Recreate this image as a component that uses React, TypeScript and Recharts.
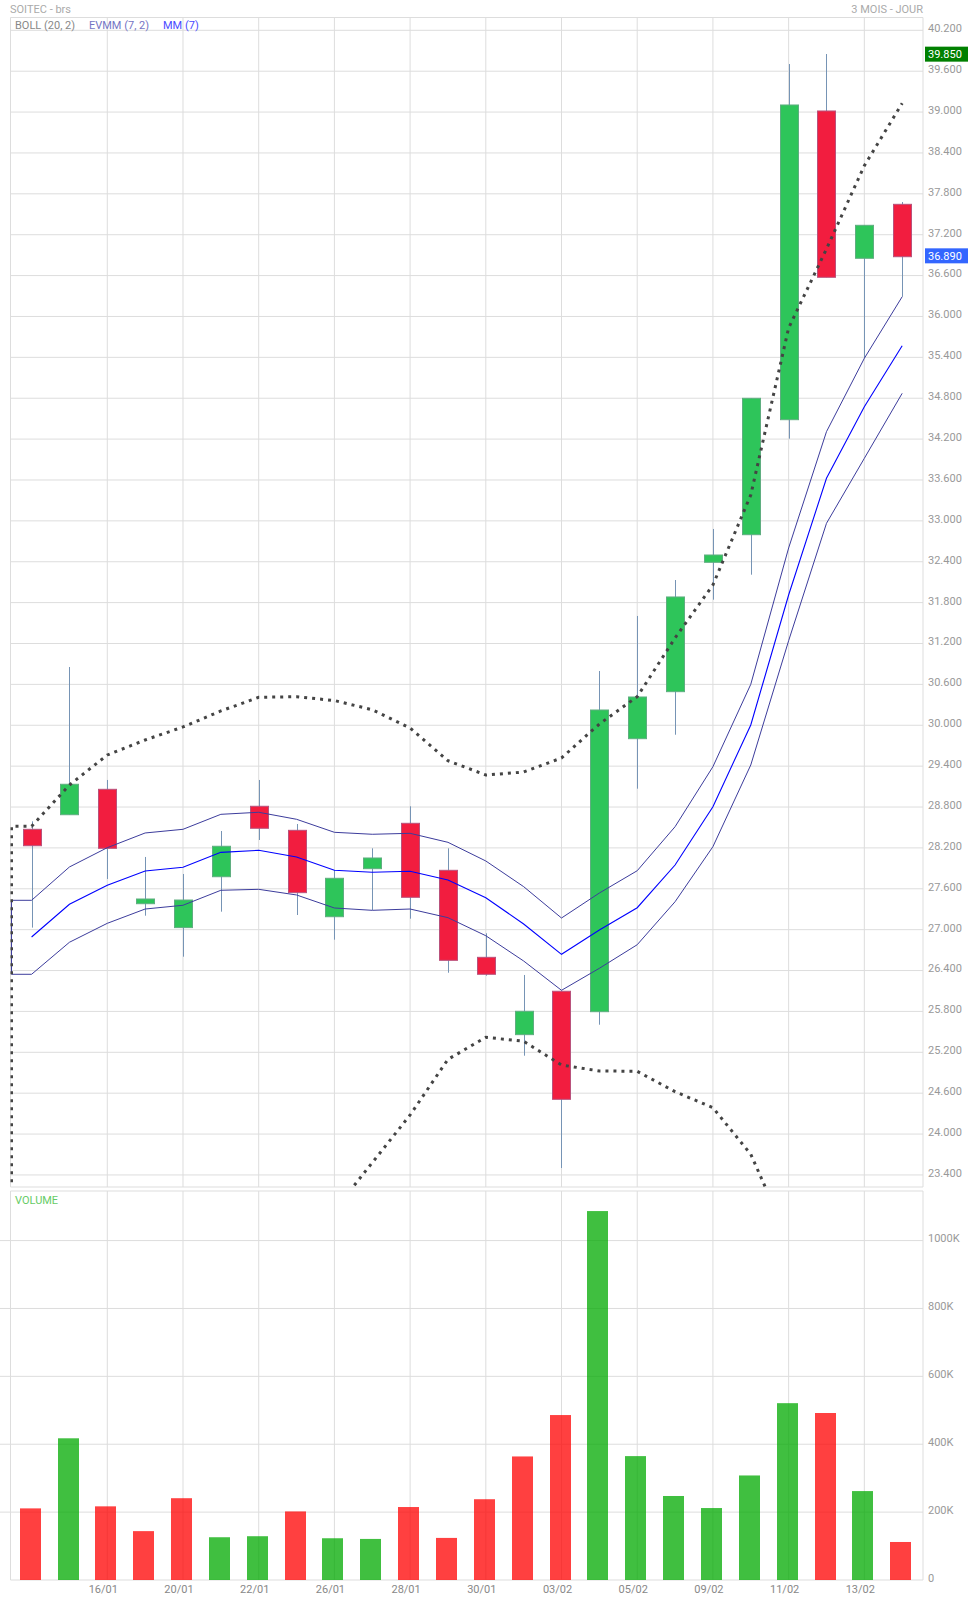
import { Bar, CartesianGrid, Cell, ComposedChart, Line, ReferenceArea, ReferenceLine, XAxis, YAxis } from "recharts";

const FONT = "Roboto, sans-serif";
const GRID = "#dddddd";

const DATES = ["", "", "16/01", "", "20/01", "", "22/01", "", "26/01", "", "28/01", "", "30/01", "", "03/02", "", "05/02", "", "09/02", "", "11/02", "", "13/02", ""];

const OPEN = [28.473, 28.687, 29.06, 27.381, 27.03, 27.777, 28.811, 28.458, 27.19, 27.895, 28.561, 27.871, 26.594, 25.459, 26.096, 25.796, 29.803, 30.493, 32.392, 32.797, 34.485, 39.016, 36.854, 37.646];
const CLOSE = [28.232, 29.134, 28.194, 27.45, 27.435, 28.224, 28.488, 27.543, 27.754, 28.052, 27.475, 26.55, 26.345, 25.802, 24.51, 30.224, 30.415, 31.883, 32.499, 34.799, 39.104, 36.575, 37.338, 36.877];
const HIGH = [28.59, 30.855, 29.197, 28.067, 27.817, 28.448, 29.197, 28.551, 27.876, 28.194, 28.811, 28.194, 26.947, 26.335, 26.096, 30.796, 31.604, 32.132, 32.881, 34.799, 39.705, 39.852, 37.338, 37.68];
const LOW = [27.03, 28.687, 27.744, 27.205, 26.603, 27.264, 28.316, 27.215, 26.853, 27.289, 27.161, 26.368, 26.324, 25.15, 23.502, 25.605, 29.069, 29.861, 31.843, 32.21, 34.206, 36.575, 35.386, 36.29];

const EVMM_UP = [27.431, 27.92, 28.203, 28.419, 28.473, 28.693, 28.723, 28.62, 28.429, 28.4, 28.414, 28.282, 28.008, 27.631, 27.171, 27.538, 27.865, 28.511, 29.392, 30.601, 32.602, 34.309, 35.386, 36.29];
const MM = [26.892, 27.372, 27.651, 27.861, 27.915, 28.135, 28.165, 28.067, 27.871, 27.842, 27.857, 27.729, 27.469, 27.083, 26.638, 26.995, 27.322, 27.949, 28.805, 30.004, 31.912, 33.625, 34.676, 35.571];
const EVMM_LOW = [26.345, 26.815, 27.093, 27.303, 27.358, 27.578, 27.592, 27.509, 27.318, 27.284, 27.303, 27.176, 26.911, 26.54, 26.11, 26.433, 26.779, 27.41, 28.218, 29.417, 31.241, 32.964, 33.918, 34.872];
const BOLL_UP = [28.517, 29.123, 29.564, 29.784, 29.975, 30.21, 30.41, 30.419, 30.363, 30.228, 29.96, 29.48, 29.27, 29.314, 29.52, 30.019, 30.419, 31.281, 32.059, 33.38, 35.831, 36.99, 38.213, 39.129];
const BOLL_LOW = [null, null, null, null, null, null, null, null, 22.88, 23.58, 24.28, 25.097, 25.42, 25.362, 25.014, 24.926, 24.921, 24.622, 24.387, 23.703, 22.45, null, null, null];

const VOLUME = [211000, 417500, 217000, 144000, 241000, 126000, 129000, 202000, 123000, 121000, 215000, 124000, 238000, 364000, 486000, 1087000, 365000, 247500, 212000, 308000, 521000, 492000, 262000, 112000];
const VOLUME_UP = [false, true, false, false, false, true, true, false, true, true, false, false, false, false, false, true, true, true, true, true, true, false, true, false];

const PRICE_TICKS = [23.4, 24, 24.6, 25.2, 25.8, 26.4, 27, 27.6, 28.2, 28.8, 29.4, 30, 30.6, 31.2, 31.8, 32.4, 33, 33.6, 34.2, 34.8, 35.4, 36, 36.6, 37.2, 37.8, 38.4, 39, 39.6, 40.2];
const VOLUME_TICKS = [0, 200000, 400000, 600000, 800000, 1000000];
const DATE_TICKS = [2, 4, 6, 8, 10, 12, 14, 16, 18, 20, 22];

const X_EDGE = -0.53;
const X_LEFT = -0.557;
const X_PAD = -0.835;
const X_RIGHT = 23.55;
const PRICE_MIN = 23.223;
const PRICE_MAX = 40.388;
const VOLUME_MAX = 1146100;

const candleRows = DATES.map((date, i) => ({
    x: i,
    date,
    open: OPEN[i],
    close: CLOSE[i],
    high: HIGH[i],
    low: LOW[i],
    range: [LOW[i], HIGH[i]],
    evmmUp: EVMM_UP[i],
    mm: MM[i],
    evmmLow: EVMM_LOW[i],
    bollUp: BOLL_UP[i],
    bollLow: BOLL_LOW[i],
}));

// the bands come up from the left border before the first session
const priceRows = [
    { x: X_EDGE, bollUp: 22, evmmUp: EVMM_LOW[0] },
    { x: X_EDGE, bollUp: BOLL_UP[0], evmmUp: EVMM_UP[0], evmmLow: EVMM_LOW[0] },
    ...candleRows,
];

const volumeRows = VOLUME.map((volume, i) => ({ x: i, volume, up: VOLUME_UP[i] }));

function Candle(props: any) {
    const { x, y, width, height, payload } = props;
    if (!payload || payload.open == null) return null;
    const cx = Math.floor(x + width / 2) + 0.5;
    const perUnit = height / Math.max(payload.high - payload.low, 0.001);
    const top = y + (payload.high - Math.max(payload.open, payload.close)) * perUnit;
    const bottom = y + (payload.high - Math.min(payload.open, payload.close)) * perUnit;
    const rising = payload.close >= payload.open;
    return (
        <g>
            <line x1={cx} x2={cx} y1={y} y2={y + height} stroke="#7694b5" strokeWidth={1} />
            <rect
                x={cx - 9}
                y={top}
                width={18}
                height={Math.max(bottom - top, 1)}
                fill={rising ? "#2ec55a" : "#f21d3f"}
                stroke={rising ? "#5fae80" : "#b9527c"}
                strokeWidth={1}
            />
        </g>
    );
}

function VolumeBar(props: any) {
    const { x, y, width, height, fill } = props;
    return <rect x={Math.round(x) - 1} y={y} width={width} height={height} fill={fill} fillOpacity={0.75} />;
}

function priceBox(color: string, text: string) {
    return (props: any) => {
        const { x, y, width } = props.viewBox;
        return (
            <g>
                <rect x={x + width + 2} y={y - 7.5} width={43} height={15} fill={color} />
                <text x={x + width + 5} y={y + 4} fontSize={11} fontFamily={FONT} fill="#ffffff">
                    {text}
                </text>
            </g>
        );
    };
}

function Caption({ left, top, color, children, right }: any) {
    return (
        <div
            style={{
                position: "absolute",
                left,
                right,
                top,
                color,
                fontFamily: FONT,
                fontSize: 11,
                lineHeight: "14px",
                whiteSpace: "nowrap",
            }}
        >
            {children}
        </div>
    );
}

export default function App() {
    return (
        <div style={{ position: "absolute", left: 0, top: 0, width: 968, height: 1601, background: "#ffffff", overflow: "hidden" }}>
            <div style={{ position: "absolute", left: 0, top: 0 }}>
                <ComposedChart width={968} height={1189} data={priceRows} margin={{ top: 17.5, right: 0, bottom: 1, left: 10.5 }}>
                    <CartesianGrid stroke={GRID} horizontalValues={PRICE_TICKS} verticalValues={DATE_TICKS} />
                    <XAxis
                        dataKey="x"
                        type="number"
                        domain={[X_LEFT, X_RIGHT]}
                        ticks={DATE_TICKS}
                        allowDataOverflow
                        interval={0}
                        height={1}
                        axisLine={false}
                        tickLine={false}
                        tick={() => <g />}
                    />
                    <YAxis
                        orientation="right"
                        type="number"
                        width={45}
                        domain={[PRICE_MIN, PRICE_MAX]}
                        ticks={PRICE_TICKS}
                        allowDataOverflow
                        interval={0}
                        axisLine={false}
                        tickLine={false}
                        tickSize={0}
                        tickMargin={5}
                        tickFormatter={(v: number) => v.toFixed(3)}
                        tick={{ fill: "#999999", fontSize: 11, fontFamily: FONT, dy: -2 }}
                    />
                    <ReferenceArea x1={X_LEFT} x2={X_RIGHT} y1={PRICE_MIN} y2={PRICE_MAX} fill="none" stroke={GRID} ifOverflow="visible" />
                    <Bar dataKey="range" barSize={19} shape={<Candle />} isAnimationActive={false} />
                    <Line dataKey="evmmUp" stroke="#3c3c9c" strokeWidth={1} dot={false} isAnimationActive={false} />
                    <Line dataKey="evmmLow" stroke="#3c3c9c" strokeWidth={1} dot={false} isAnimationActive={false} />
                    <Line dataKey="mm" stroke="#0000ff" strokeWidth={1.1} dot={false} isAnimationActive={false} />
                    <Line dataKey="bollUp" stroke="#444444" strokeWidth={3} strokeDasharray="3 5" dot={false} isAnimationActive={false} />
                    <Line dataKey="bollLow" stroke="#444444" strokeWidth={3} strokeDasharray="3 5" dot={false} isAnimationActive={false} />
                    <ReferenceLine y={39.85} stroke="none" label={priceBox("#008000", "39.850")} />
                    <ReferenceLine y={36.89} stroke="none" label={priceBox("#3366ff", "36.890")} />
                </ComposedChart>
            </div>

            <div style={{ position: "absolute", left: 0, top: 1189 }}>
                <ComposedChart width={968} height={412} data={volumeRows} margin={{ top: 2, right: 0, bottom: 0, left: 0 }}>
                    <CartesianGrid stroke={GRID} horizontalValues={VOLUME_TICKS.slice(1)} verticalValues={DATE_TICKS} />
                    <XAxis
                        dataKey="x"
                        type="number"
                        domain={[X_PAD, X_RIGHT]}
                        ticks={DATE_TICKS}
                        allowDataOverflow
                        interval={0}
                        height={21}
                        axisLine={false}
                        tickLine={false}
                        tickSize={0}
                        tickMargin={5}
                        tickFormatter={(v: number) => DATES[v]}
                        tick={{ fill: "#888888", fontSize: 11, fontFamily: FONT, dx: -4 }}
                    />
                    <YAxis
                        orientation="right"
                        type="number"
                        width={45}
                        domain={[0, VOLUME_MAX]}
                        ticks={VOLUME_TICKS}
                        allowDataOverflow
                        interval={0}
                        axisLine={false}
                        tickLine={false}
                        tickSize={0}
                        tickMargin={5}
                        tickFormatter={(v: number) => (v === 0 ? "0" : `${v / 1000}K`)}
                        tick={{ fill: "#999999", fontSize: 11, fontFamily: FONT, dy: -2 }}
                    />
                    <ReferenceArea x1={X_LEFT} x2={X_RIGHT} y1={0} y2={VOLUME_MAX} fill="none" stroke={GRID} ifOverflow="visible" />
                    <Bar dataKey="volume" barSize={21} shape={<VolumeBar />} isAnimationActive={false}>
                        {volumeRows.map((row) => (
                            <Cell key={row.x} fill={row.up ? "#00aa00" : "#ff0000"} />
                        ))}
                    </Bar>
                </ComposedChart>
            </div>

            <Caption left={10} top={3} color="#aaaaaa">SOITEC - brs</Caption>
            <Caption right={45} top={3} color="#aaaaaa">3 MOIS - JOUR</Caption>
            <Caption left={15} top={19} color="#888888">BOLL (20, 2)</Caption>
            <Caption left={89} top={19} color="#7474c4">EVMM (7, 2)</Caption>
            <Caption left={163} top={19} color="#4a4aff">MM (7)</Caption>
            <Caption left={15} top={1194} color="#66cc66">VOLUME</Caption>
        </div>
    );
}
